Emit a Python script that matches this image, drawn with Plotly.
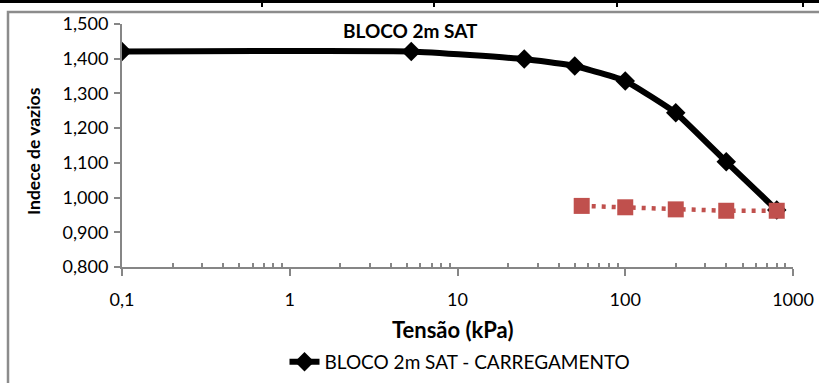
import plotly.graph_objects as go

# ---- data ----
carga_x = [0.1, 5.3, 25, 50, 100, 200, 400, 800]
carga_y = [1.421, 1.421, 1.399, 1.379, 1.336, 1.244, 1.103, 0.964]
desc_x = [55, 100, 200, 400, 800]
desc_y = [0.976, 0.972, 0.966, 0.962, 0.962]

x_tickvals = [0.1, 1, 10, 100, 1000]
x_ticktext = ["0,1", "1", "10", "100", "1000"]
y_tickvals = [0.8, 0.9, 1.0, 1.1, 1.2, 1.3, 1.4, 1.5]
y_ticktext = ["0,800", "0,900", "1,000", "1,100", "1,200", "1,300", "1,400", "1,500"]
minor_vals = [m * d for d in [0.1, 1, 10, 100] for m in range(2, 10)]

title_text = "BLOCO 2m SAT"
legend_name = "BLOCO 2m SAT - CARREGAMENTO"
x_title = "Tensão (kPa)"
y_title = "Indece de vazios"

W, H = 819, 383
L, R, T, B = 122, 793, 24, 267  # plot area in px
pw, ph = R - L, B - T


def px(x):
    return (x - L) / pw


def py(y):
    return (B - y) / ph


FONT = "Lato"
AX = "#868686"

fig = go.Figure()
fig.add_trace(go.Scatter(
    x=carga_x, y=carga_y, mode="lines+markers", name=legend_name,
    line=dict(color="black", width=6, shape="spline", smoothing=0.35),
    marker=dict(symbol="diamond", size=15, color="black"),
))
fig.add_trace(go.Scatter(
    x=desc_x, y=desc_y, mode="lines+markers", showlegend=False,
    line=dict(color="#C0504D", width=4.5, dash="4px,6px"),
    marker=dict(symbol="square", size=16, color="#C0504D"),
))

shapes = [
    # outer chart frame (gray)
    dict(type="rect", xref="paper", yref="paper",
         x0=px(8), x1=px(840), y0=py(420), y1=py(12),
         line=dict(color="#8c8c8c", width=2.5), layer="below"),
    # top black border
    dict(type="line", xref="paper", yref="paper",
         x0=px(-5), x1=px(830), y0=py(1.5), y1=py(1.5),
         line=dict(color="black", width=3)),
]
for sx in [262, 434, 617, 803]:
    shapes.append(dict(type="line", xref="paper", yref="paper",
                       x0=px(sx), x1=px(sx), y0=py(0), y1=py(7),
                       line=dict(color="black", width=2)))

annotations = [
    dict(text="<b>" + x_title + "</b>", xref="paper", yref="paper",
         x=px(452), y=py(329), showarrow=False, xanchor="center", yanchor="middle",
         font=dict(family=FONT, size=22, color="black")),
    dict(text="<b>" + y_title + "</b>", xref="paper", yref="paper",
         x=px(33), y=py(151), showarrow=False, xanchor="center", yanchor="middle",
         textangle=-90, font=dict(family=FONT, size=17.5, color="black")),
    dict(text="<b>" + title_text + "</b>", xref="paper", yref="paper",
         x=px(410), y=py(30), showarrow=False, xanchor="center", yanchor="middle",
         font=dict(family=FONT, size=19, color="black")),
]

fig.update_layout(
    width=W, height=H,
    margin=dict(l=L, r=W - R, t=T, b=H - B, pad=0, autoexpand=False),
    paper_bgcolor="white", plot_bgcolor="white",
    font=dict(family=FONT, size=18, color="black"),
    showlegend=True,
    legend=dict(orientation="h", x=px(460), y=py(362), xanchor="center", yanchor="middle",
                font=dict(family=FONT, size=19, color="black"), bgcolor="rgba(0,0,0,0)"),
    shapes=shapes,
    annotations=annotations,
)
fig.update_xaxes(
    type="log", range=[-1, 3], tickmode="array", tickvals=x_tickvals, ticktext=x_ticktext,
    showgrid=False, zeroline=False, showline=True, linecolor=AX, linewidth=2,
    ticks="outside", ticklen=7, tickwidth=2, tickcolor=AX, ticklabelstandoff=8,
    automargin=False,
    minor=dict(tickmode="array", tickvals=minor_vals, ticks="inside", ticklen=4,
               tickwidth=2, tickcolor=AX, showgrid=False),
    tickfont=dict(family=FONT, size=18, color="black"),
)
fig.update_yaxes(
    range=[0.8, 1.5], tickmode="array", tickvals=y_tickvals, ticktext=y_ticktext,
    showgrid=False, zeroline=False, showline=True, linecolor=AX, linewidth=2,
    ticks="outside", ticklen=6, tickwidth=2, tickcolor=AX, automargin=False,
    ticklabelstandoff=2,
    tickfont=dict(family=FONT, size=18, color="black"),
)

fig.write_html("out.html", config={"displayModeBar": False},
               post_script="document.body.style.margin='0px';document.body.style.overflow='hidden';")
